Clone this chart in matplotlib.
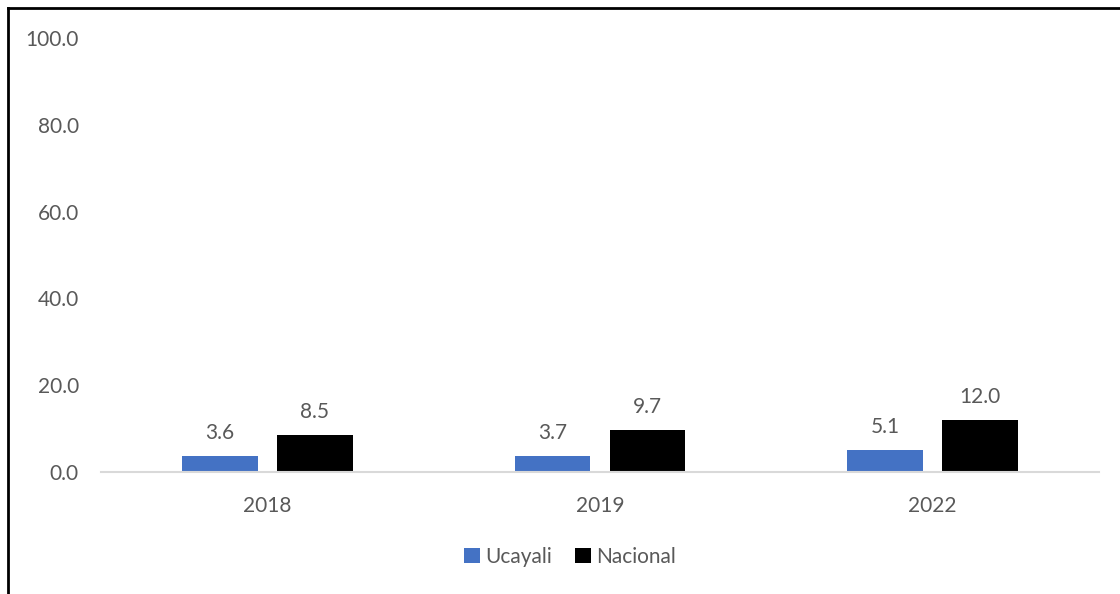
import matplotlib
matplotlib.use("Agg")
import matplotlib.pyplot as plt
import numpy as np
from matplotlib.lines import Line2D
from matplotlib.patches import Patch

categories = ["2018", "2019", "2022"]
ucayali = [3.6, 3.7, 5.1]
nacional = [8.5, 9.7, 12.0]
series_names = ["Ucayali", "Nacional"]
yticks = [0, 20, 40, 60, 80, 100]

plt.rcParams['font.family'] = ['Lato', 'DejaVu Sans']
grey = '#595959'
fs = 15

fig = plt.figure(figsize=(11.2, 5.94), dpi=100)
ax = fig.add_axes([101/1120, 1 - 472/594, 998/1120, (472-38)/594])

x = np.arange(len(categories))
w = 0.228
off = 0.143
b1 = ax.bar(x - off, ucayali, w, color='#4472C4', label=series_names[0])
b2 = ax.bar(x + off, nacional, w, color='#000000', label=series_names[1])

for bars, vals in ((b1, ucayali), (b2, nacional)):
    for r, v in zip(bars, vals):
        ax.annotate(f"{v:.1f}", (r.get_x() + r.get_width()/2, v),
                    xytext=(0, 9.5), textcoords='offset points',
                    ha='center', va='bottom', fontsize=fs, color=grey)

ax.set_xlim(-0.5, len(categories) - 0.5)
ax.set_ylim(0, 100)
ax.set_yticks(yticks)
ax.set_yticklabels([f"{t:.1f}" for t in yticks])
ax.set_xticks(x)
ax.set_xticklabels(categories)
ax.tick_params(axis='both', length=0, labelsize=fs, colors=grey)
ax.tick_params(axis='y', pad=16)
ax.tick_params(axis='x', pad=17)
for s in ['top', 'right', 'left']:
    ax.spines[s].set_visible(False)
ax.spines['bottom'].set_color('#D9D9D9')
ax.spines['bottom'].set_linewidth(1.5)

handles = [Patch(facecolor='#4472C4'), Patch(facecolor='#000000')]
fig.legend(handles, series_names, loc='center', bbox_to_anchor=(570/1120, 1 - 557/594),
           ncol=2, frameon=False, fontsize=fs, labelcolor=grey,
           handlelength=0.75, handleheight=0.75, handletextpad=0.25, columnspacing=1.1)

# outer border (left and top visible)
fig.add_artist(Line2D([7.5/1120, 7.5/1120], [0, 1 - 8/594], transform=fig.transFigure, color='black', lw=2))
fig.add_artist(Line2D([7.5/1120, 1], [1 - 8/594, 1 - 8/594], transform=fig.transFigure, color='black', lw=2))

fig.savefig("out.png", dpi=100)
